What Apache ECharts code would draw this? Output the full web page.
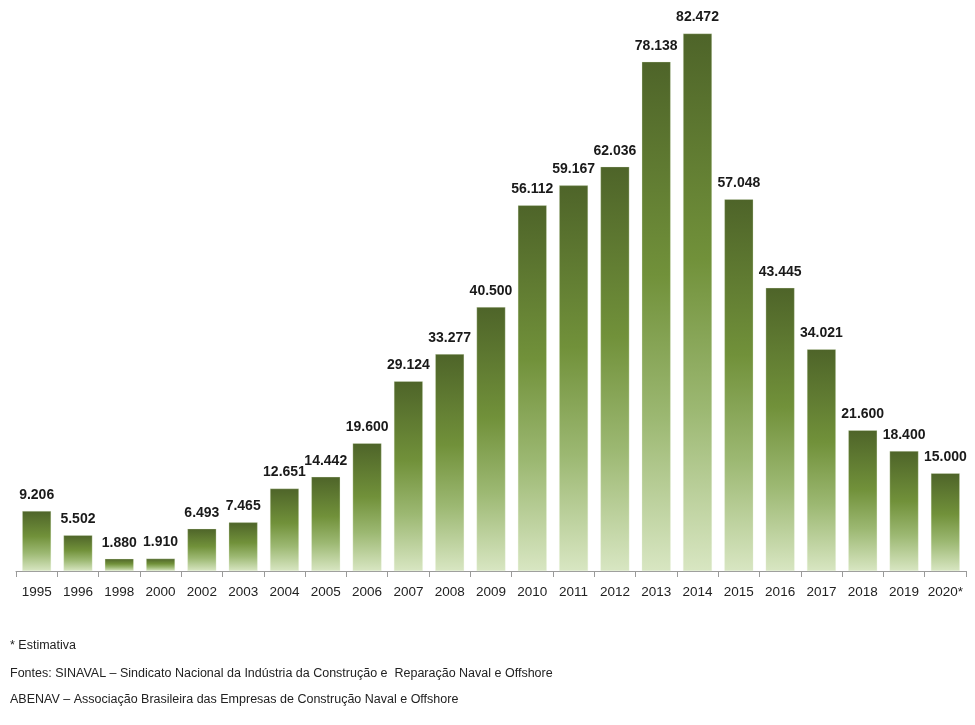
<!DOCTYPE html>
<html><head><meta charset="utf-8">
<script src="https://cdn.jsdelivr.net/npm/echarts@6/dist/echarts.min.js"></script>
<style>html,body{margin:0;padding:0;background:#fff}#c{width:975px;height:725px}</style>
</head><body><div id="c"></div>
<script>
const years = ['1995','1996','1998','2000','2002','2003','2004','2005','2006','2007','2008','2009','2010','2011','2012','2013','2014','2015','2016','2017','2018','2019','2020*'];
const values = [9206,5502,1880,1910,6493,7465,12651,14442,19600,29124,33277,40500,56112,59167,62036,78138,82472,57048,43445,34021,21600,18400,15000];
const notes = ['* Estimativa','Fontes: SINAVAL – Sindicato Nacional da Indústria da Construção e  Reparação Naval e Offshore','ABENAV – Associação Brasileira das Empresas de Construção Naval e Offshore'];

function fmt(v){const s=String(v);return s.length>3? s.slice(0,-3)+'.'+s.slice(-3):s;}
const chart = echarts.init(document.getElementById('c'));
chart.setOption({
  animation:false,
  grid:{left:16,right:9,top:17,bottom:154},
  xAxis:{type:'category',data:years,
    axisLine:{lineStyle:{color:'#9a9a9a',width:1}},
    axisTick:{show:true,length:6,lineStyle:{color:'#9a9a9a'}},
    axisLabel:{color:'#222',fontSize:13.5,fontFamily:'Liberation Sans',margin:14,interval:0}},
  yAxis:{type:'value',min:0,max:85000,show:false,splitLine:{show:false}},
  series:[{type:'bar',data:values,barWidth:'70%',
    itemStyle:{borderColor:'rgba(230,240,215,0.6)',borderWidth:0.5,
      color:new echarts.graphic.LinearGradient(0,0,0,1,[
      {offset:0,color:'#4e6429'},{offset:0.42,color:'#71913a'},{offset:0.7,color:'#9cb872'},{offset:1,color:'#d8e6c2'}])},
    label:{show:true,position:'top',distance:9,color:'#1a1a1a',fontWeight:'bold',fontSize:14,fontFamily:'Liberation Sans',
      formatter:p=>fmt(p.value)}}],
  graphic:notes.map((t,i)=>({type:'text',left:10,top:[639,667,693][i],
    style:{text:t,fontSize:12.5,fontFamily:'Liberation Sans',fill:'#222'}}))
});
</script></body></html>
